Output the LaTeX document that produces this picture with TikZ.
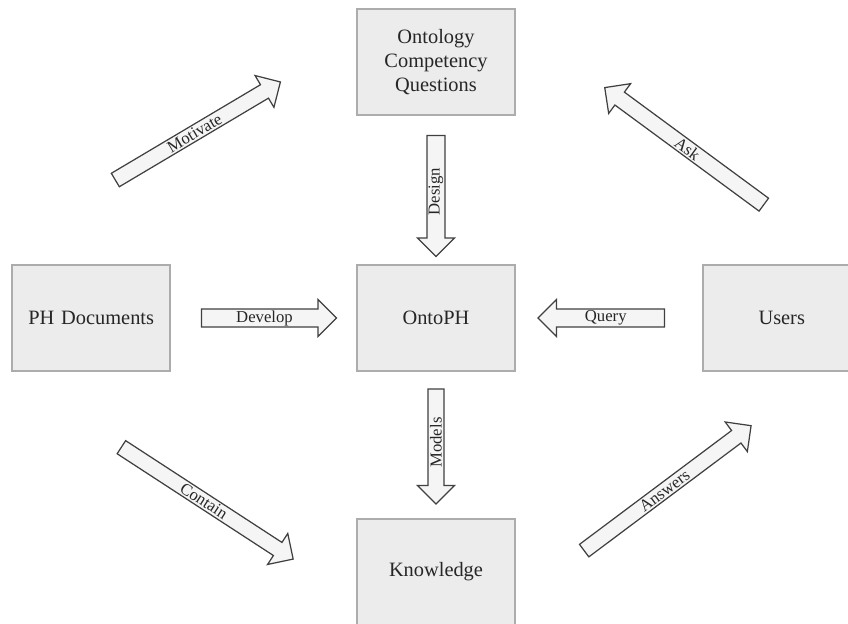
\documentclass[tikz,border=0pt]{standalone}
\usepackage{fontspec}
\setmainfont{Liberation Serif}
\usetikzlibrary{positioning, shapes.arrows}

\begin{document}
\begin{tikzpicture}[
  box/.style={draw=gray!65, line width=1pt, fill=gray!15, rectangle, text centered,
              text width=2.9cm, minimum width=3.16cm, minimum height=2.12cm,
              font=\fontsize{11.6}{13.6}\selectfont, text=black!85},
  blk/.style={draw=black!75, line width=0.7pt, fill=gray!8, single arrow,
              single arrow head extend=0.17cm, minimum width=0.74cm, inner sep=0pt,
              sloped, font=\fontsize{9.5}{11}\selectfont, text=black!85},
  back/.style={blk, shape border rotate=180}
]
  \useasboundingbox (0,0) rectangle (16.96,12.46);
  \node[box] (onto) at (8.72,6.10) {OntoPH};
  \node[box, above=2.96cm of onto] (ocq)   {Ontology\\Competency\\Questions};
  \node[box, below=2.92cm of onto] (know)  {Knowledge};
  \node[box, left=3.70cm of onto]  (phdoc) {PH Documents};
  \node[box, right=3.72cm of onto] (users) {Users};

  % ends of the block arrows
  \coordinate (dev1) at (3.94,6.10);   \coordinate (dev2) at (6.64,6.10);
  \coordinate (qry1) at (13.38,6.10);  \coordinate (qry2) at (10.85,6.10);
  \coordinate (des1) at (8.72,9.84);   \coordinate (des2) at (8.72,7.42);
  \coordinate (mod1) at (8.72,4.76);   \coordinate (mod2) at (8.72,2.46);
  \coordinate (mot1) at (2.24,8.82);   \coordinate (mot2) at (5.54,10.78);
  \coordinate (ask1) at (15.34,8.32);  \coordinate (ask2) at (12.16,10.66);
  \coordinate (con1) at (2.36,3.56);   \coordinate (con2) at (5.80,1.32);
  \coordinate (ans1) at (11.62,1.40);  \coordinate (ans2) at (14.96,3.90);

  \path (dev1) -- node[blk,  minimum height=2.70cm] (dev) {Develop}  (dev2);
  \path (qry2) -- node[back, minimum height=2.53cm] (qry) {Query}    (qry1);
  \path (des2) -- node[back, minimum height=2.42cm] (des) {Design}   (des1);
  \path (mod2) -- node[back, minimum height=2.30cm] (mod) {Models}   (mod1);
  \path (mot1) -- node[blk,  minimum height=3.84cm] (mot) {Motivate} (mot2);
  \path (ask2) -- node[back, minimum height=3.95cm] (ask) {Ask}      (ask1);
  \path (con1) -- node[blk,  minimum height=4.10cm] (con) {Contain}  (con2);
  \path (ans1) -- node[blk,  minimum height=4.17cm] (ans) {Answers}  (ans2);
\end{tikzpicture}
\end{document}
